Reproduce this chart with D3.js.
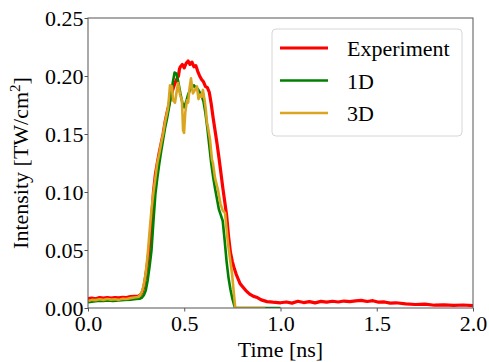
<!DOCTYPE html>
<html><head><meta charset="utf-8">
<script src="https://cdn.jsdelivr.net/npm/d3@7"></script>
<style>body{margin:0;background:#fff}svg{display:block}text{font-family:"Liberation Serif","Times New Roman",serif;fill:#000}</style>
</head><body>
<script>
const xTicks = [0.0, 0.5, 1.0, 1.5, 2.0];
const yTicks = [0.00, 0.05, 0.10, 0.15, 0.20, 0.25];
const seriesNames = ["Experiment", "1D", "3D"];
const seriesColors = ["#ff0000", "#008000", "#daa520"];

const expT = [0.00,0.02,0.04,0.06,0.08,0.10,0.12,0.14,0.16,0.18,0.20,0.22,0.24,0.26,0.27,0.28,0.29,0.30,0.31,0.32,0.33,0.34,0.35,0.36,0.37,0.38,0.39,0.40,0.41,0.42,0.43,0.44,0.45,0.46,0.47,0.475,0.48,0.49,0.50,0.51,0.52,0.53,0.54,0.55,0.56,0.57,0.58,0.59,0.60,0.61,0.62,0.63,0.64,0.65,0.66,0.67,0.68,0.69,0.70,0.71,0.72,0.73,0.74,0.75,0.76,0.77,0.78,0.79,0.80,0.82,0.84,0.86,0.88,0.90,0.93,0.96,1.00,1.03,1.06,1.09,1.12,1.15,1.18,1.21,1.24,1.27,1.30,1.33,1.36,1.39,1.42,1.45,1.48,1.51,1.54,1.57,1.60,1.65,1.70,1.75,1.80,1.85,1.90,1.95,2.00];
const expV = [0.008,0.0085,0.008,0.009,0.0085,0.009,0.0085,0.009,0.0088,0.0092,0.009,0.0098,0.010,0.010,0.011,0.013,0.018,0.028,0.040,0.055,0.075,0.100,0.115,0.125,0.134,0.142,0.150,0.160,0.168,0.175,0.182,0.188,0.193,0.197,0.200,0.206,0.208,0.210,0.207,0.211,0.213,0.210,0.212,0.208,0.209,0.204,0.200,0.197,0.195,0.191,0.190,0.186,0.176,0.164,0.153,0.142,0.130,0.117,0.104,0.092,0.080,0.062,0.048,0.040,0.034,0.029,0.025,0.021,0.019,0.015,0.012,0.010,0.009,0.007,0.0055,0.005,0.0045,0.0052,0.0042,0.0058,0.0047,0.0055,0.0044,0.0057,0.005,0.0058,0.0052,0.006,0.0055,0.0062,0.0066,0.0056,0.0063,0.005,0.0052,0.0042,0.0045,0.0036,0.003,0.0033,0.0024,0.0027,0.0022,0.0026,0.002];

const oneDT = [0.00,0.02,0.05,0.08,0.10,0.13,0.16,0.19,0.22,0.25,0.27,0.28,0.29,0.30,0.31,0.32,0.33,0.34,0.35,0.36,0.37,0.38,0.39,0.40,0.41,0.42,0.43,0.44,0.45,0.46,0.47,0.48,0.49,0.50,0.51,0.52,0.53,0.54,0.55,0.56,0.57,0.58,0.59,0.60,0.61,0.62,0.63,0.64,0.65,0.66,0.67,0.68,0.69,0.70,0.71,0.72,0.73,0.74,0.75,0.76,0.765,1.00];
const oneDV = [0.005,0.0055,0.006,0.006,0.0065,0.006,0.0065,0.007,0.0072,0.0078,0.008,0.009,0.011,0.015,0.024,0.036,0.050,0.075,0.098,0.112,0.124,0.135,0.145,0.155,0.163,0.172,0.182,0.194,0.203,0.202,0.194,0.185,0.177,0.173,0.178,0.184,0.188,0.190,0.192,0.190,0.189,0.186,0.183,0.178,0.168,0.155,0.140,0.125,0.113,0.103,0.094,0.085,0.080,0.075,0.058,0.040,0.026,0.016,0.008,0.002,0.0,0.0];

const threeDT = [0.00,0.02,0.04,0.06,0.08,0.10,0.12,0.14,0.16,0.18,0.20,0.22,0.24,0.26,0.27,0.28,0.29,0.30,0.31,0.32,0.33,0.34,0.35,0.36,0.37,0.38,0.39,0.40,0.41,0.415,0.42,0.426,0.436,0.442,0.452,0.46,0.468,0.478,0.488,0.494,0.499,0.505,0.514,0.52,0.528,0.535,0.545,0.556,0.566,0.574,0.582,0.59,0.597,0.605,0.612,0.618,0.623,0.634,0.644,0.649,0.66,0.675,0.688,0.70,0.712,0.72,0.727,0.738,0.748,0.757,0.765,0.92];
const threeDV = [0.006,0.007,0.0068,0.0075,0.007,0.0078,0.0072,0.0075,0.007,0.008,0.0078,0.0085,0.009,0.0095,0.011,0.014,0.020,0.030,0.046,0.066,0.085,0.100,0.112,0.125,0.133,0.142,0.150,0.160,0.168,0.172,0.180,0.192,0.191,0.179,0.177,0.186,0.194,0.184,0.179,0.153,0.151,0.168,0.179,0.177,0.190,0.198,0.185,0.188,0.191,0.180,0.184,0.182,0.188,0.180,0.171,0.160,0.156,0.145,0.128,0.125,0.112,0.102,0.090,0.084,0.082,0.068,0.056,0.042,0.030,0.014,0.0,0.0];

const W = 489, H = 362;
const m = {left: 88, right: 16, top: 18, bottom: 54};
const svg = d3.select("body").append("svg").attr("width", W).attr("height", H);
const x = d3.scaleLinear().domain([0, 2]).range([m.left, W - m.right]);
const y = d3.scaleLinear().domain([0, 0.25]).range([H - m.bottom, m.top]);

const series = [
  {t: expT, v: expV, w: 3.2},
  {t: oneDT, v: oneDV, w: 2.6},
  {t: threeDT, v: threeDV, w: 2.6}
];
const line = d3.line().x(d => x(d[0])).y(d => y(d[1]));
svg.append("clipPath").attr("id", "c").append("rect")
  .attr("x", m.left).attr("y", m.top).attr("width", W - m.right - m.left).attr("height", H - m.bottom - m.top);
series.forEach((s, i) => {
  svg.append("path").datum(s.t.map((t, k) => [t, s.v[k]]))
    .attr("d", line).attr("fill", "none").attr("stroke", seriesColors[i])
    .attr("stroke-width", s.w).attr("stroke-linejoin", "round")
    .attr("clip-path", "url(#c)");
});

svg.append("rect").attr("x", m.left).attr("y", m.top)
  .attr("width", W - m.right - m.left).attr("height", H - m.bottom - m.top)
  .attr("fill", "none").attr("stroke", "#555").attr("stroke-width", 1);

const xa = svg.append("g").attr("transform", `translate(0,${H - m.bottom})`)
  .call(d3.axisBottom(x).tickValues(xTicks).tickFormat(d3.format(".1f")).tickSize(3.5).tickPadding(1));
const ya = svg.append("g").attr("transform", `translate(${m.left},0)`)
  .call(d3.axisLeft(y).tickValues(yTicks).tickFormat(d3.format(".2f")).tickSize(3.5).tickPadding(1));
[xa, ya].forEach(g => {
  g.select(".domain").remove();
  g.selectAll(".tick line").attr("stroke", "#555");
  g.selectAll(".tick text").style("font-family", '"Liberation Serif", serif').style("font-size", "22px").attr("fill", "#000");
});
xa.selectAll(".tick text").attr("dy", "0.82em");

svg.append("text").attr("x", x(1)).attr("y", 357).attr("text-anchor", "middle")
  .style("font-size", "22px").text("Time [ns]");
const yl = svg.append("text").attr("transform", `translate(28,${(m.top + H - m.bottom) / 2}) rotate(-90)`)
  .attr("text-anchor", "middle").style("font-size", "22px");
yl.append("tspan").text("Intensity [TW/cm");
yl.append("tspan").attr("dy", -8).style("font-size", "15px").text("2");
yl.append("tspan").attr("dy", 8).text("]");

const lg = svg.append("g");
lg.append("rect").attr("x", 272).attr("y", 29).attr("width", 190).attr("height", 107)
  .attr("rx", 4).attr("fill", "#fff").attr("fill-opacity", 0.8).attr("stroke", "#d6d6d6");
seriesNames.forEach((n, i) => {
  const yy = 48 + i * 32.5;
  lg.append("line").attr("x1", 280).attr("x2", 328).attr("y1", yy).attr("y2", yy)
    .attr("stroke", seriesColors[i]).attr("stroke-width", series[i].w);
  lg.append("text").attr("x", 347).attr("y", yy + 8).style("font-size", "22px").text(n);
});
</script>
</body></html>
